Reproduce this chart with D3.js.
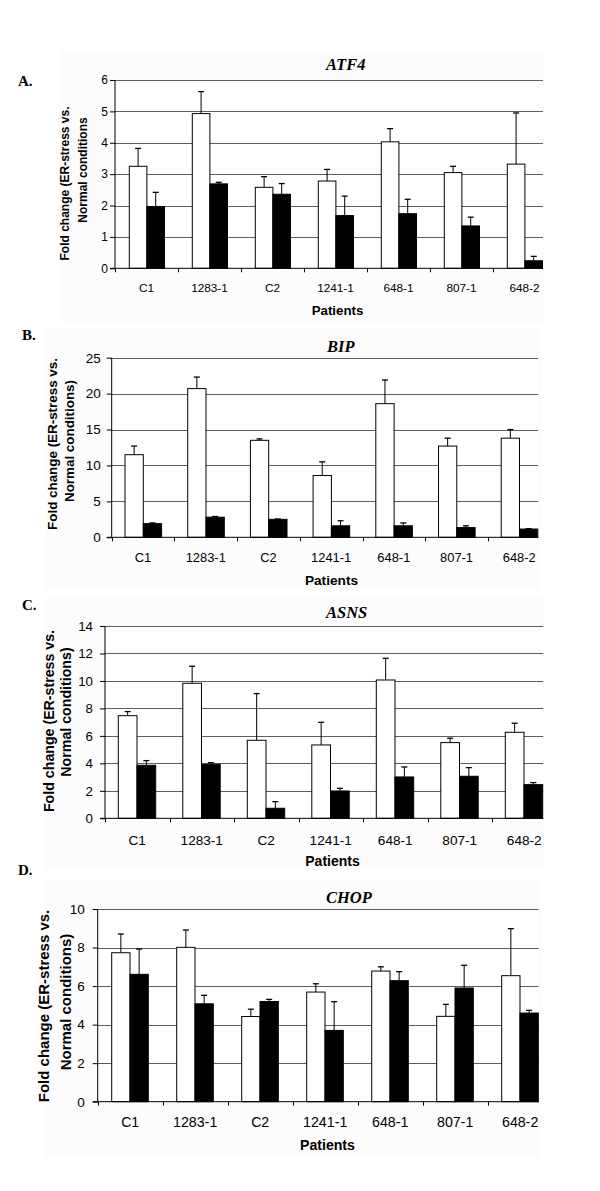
<!DOCTYPE html>
<html>
<head>
<meta charset="utf-8">
<script src="https://cdn.jsdelivr.net/npm/d3@7"></script>
<style>
  html, body { margin: 0; padding: 0; background: #fff; }
  svg { display: block; }
</style>
</head>
<body>
<svg id="chart" width="600" height="1191"></svg>
<script>
// ---------------- DATA ----------------
const categories = ["C1", "1283-1", "C2", "1241-1", "648-1", "807-1", "648-2"];
const genes = ["ATF4", "BIP", "ASNS", "CHOP"];
const panelLetters = ["A.", "B.", "C.", "D."];
const yMaxes = [6, 25, 14, 10];
const yTickSteps = [1, 5, 2, 2];
const yLabelLine1 = "Fold change (ER-stress vs.";
const yLabelLine2 = ["Normal conditions", "Normal conditions)", "Normal conditions)", "Normal conditions)"];
const xTitle = "Patients";

// open (white) bars and their errors
const atf4Open = [3.25, 4.93, 2.58, 2.78, 4.03, 3.05, 3.32];
const atf4OpenErr = [0.57, 0.70, 0.34, 0.37, 0.42, 0.20, 1.63];
const atf4Filled = [1.97, 2.69, 2.36, 1.68, 1.74, 1.35, 0.24];
const atf4FilledErr = [0.45, 0.05, 0.34, 0.62, 0.46, 0.28, 0.14];

const bipOpen = [11.5, 20.7, 13.5, 8.6, 18.6, 12.7, 13.8];
const bipOpenErr = [1.2, 1.6, 0.2, 1.9, 3.3, 1.1, 1.2];
const bipFilled = [1.9, 2.8, 2.5, 1.6, 1.6, 1.35, 1.15];
const bipFilledErr = [0.1, 0.1, 0.05, 0.7, 0.4, 0.25, 0.05];

const asnsOpen = [7.47, 9.83, 5.68, 5.34, 10.07, 5.51, 6.26];
const asnsOpenErr = [0.30, 1.24, 3.40, 1.65, 1.58, 0.32, 0.66];
const asnsFilled = [3.86, 3.93, 0.73, 1.99, 3.01, 3.06, 2.45];
const asnsFilledErr = [0.34, 0.12, 0.48, 0.19, 0.73, 0.63, 0.15];

const chopOpen = [7.73, 8.01, 4.42, 5.69, 6.78, 4.43, 6.54];
const chopOpenErr = [0.97, 0.90, 0.38, 0.43, 0.22, 0.62, 2.44];
const chopFilled = [6.61, 5.08, 5.20, 3.70, 6.28, 5.90, 4.60];
const chopFilledErr = [1.31, 0.44, 0.11, 1.49, 0.47, 1.18, 0.14];

const openSeries = [atf4Open, bipOpen, asnsOpen, chopOpen];
const openErrSeries = [atf4OpenErr, bipOpenErr, asnsOpenErr, chopOpenErr];
const filledSeries = [atf4Filled, bipFilled, asnsFilled, chopFilled];
const filledErrSeries = [atf4FilledErr, bipFilledErr, asnsFilledErr, chopFilledErr];

// ---------------- LAYOUT ----------------
const layouts = [
  { left: 115, step: 63, yTop: 80, yBot: 268.3, off: 14.3, bw: 17.6, tickFont: 12, tickPad: 2,
    catFont: 11.8, catBase: 292, ylabFont: 12, yl1: [68.5, 183.5], yl2: [86.5, 170],
    patFont: 13.3, patX: 337.5, patBase: 315, titleX: 326, titleBase: 70,
    letterX: 18, letterBase: 86, bg: [59, 50, 322] },
  { left: 111.7, step: 62.7, yTop: 357.7, yBot: 537.3, off: 13.3, bw: 18.3, tickFont: 13.5, tickPad: 6,
    catFont: 12.9, catBase: 562, ylabFont: 13.4, yl1: [57, 444], yl2: [73.5, 441],
    patFont: 13.7, patX: 331.5, patBase: 585, titleX: 327, titleBase: 352,
    letterX: 22, letterBase: 340, bg: [45, 328, 590] },
  { left: 105, step: 64.5, yTop: 626, yBot: 818.3, off: 13.3, bw: 18.7, tickFont: 13.3, tickPad: 7,
    catFont: 13.6, catBase: 845, ylabFont: 14.2, yl1: [53.5, 721], yl2: [71, 712],
    patFont: 14, patX: 332.5, patBase: 866, titleX: 326, titleBase: 618,
    letterX: 22, letterBase: 610, bg: [45, 596, 870] },
  { left: 97.7, step: 65, yTop: 909, yBot: 1101.7, off: 14, bw: 18.3, tickFont: 13.5, tickPad: 8,
    catFont: 14.2, catBase: 1127, ylabFont: 15, yl1: [48.5, 1006], yl2: [71, 1002],
    patFont: 14.1, patX: 327.5, patBase: 1150, titleX: 326, titleBase: 903,
    letterX: 18, letterBase: 875, bg: [45, 880, 1158] }
];

const SANS = "'Liberation Sans', Arial, sans-serif";
const SERIF = "'Liberation Serif', 'Times New Roman', serif";

const svg = d3.select("#chart");

genes.forEach((gene, pi) => {
  const L = layouts[pi];
  const g = svg.append("g");

  const x0 = d3.scaleBand().domain(categories)
    .range([L.left, L.left + L.step * categories.length]).padding(0);
  const x1 = d3.scaleBand().domain(["open", "filled"])
    .range([L.off, L.off + 2 * L.bw]).padding(0);
  const y = d3.scaleLinear().domain([0, yMaxes[pi]]).range([L.yBot, L.yTop]);
  const right = x0(categories[categories.length - 1]) + L.off + 2 * L.bw + 0.5;

  // very faint background
  g.append("rect")
    .attr("x", L.bg[0]).attr("y", L.bg[1])
    .attr("width", right + 2 - L.bg[0]).attr("height", L.bg[2] - L.bg[1])
    .attr("fill", "#fcfcfc");
  g.append("rect")
    .attr("x", L.left).attr("y", L.yTop)
    .attr("width", right - L.left).attr("height", L.yBot - L.yTop)
    .attr("fill", "#ffffff");

  const ticks = d3.range(0, yMaxes[pi] + 1e-9, yTickSteps[pi]);

  // gridlines
  g.append("g").selectAll("line").data(ticks.filter(t => t > 0)).join("line")
    .attr("x1", L.left).attr("x2", right)
    .attr("y1", d => Math.round(y(d)) + 0.5).attr("y2", d => Math.round(y(d)) + 0.5)
    .attr("stroke", "#5e5e5e").attr("stroke-width", 1);

  // bars
  const rows = categories.map((c, i) => ({
    cat: c,
    bars: [
      { key: "open", v: openSeries[pi][i], e: openErrSeries[pi][i] },
      { key: "filled", v: filledSeries[pi][i], e: filledErrSeries[pi][i] }
    ]
  }));

  const grp = g.append("g").selectAll("g").data(rows).join("g")
    .attr("transform", d => `translate(${x0(d.cat)},0)`);

  // error bars
  grp.selectAll("g.err").data(d => d.bars).join("g").attr("class", "err")
    .each(function (d) {
      const cx = x1(d.key) + x1.bandwidth() / 2;
      const sel = d3.select(this);
      sel.append("line")
        .attr("x1", cx).attr("x2", cx)
        .attr("y1", y(d.v)).attr("y2", y(d.v + d.e))
        .attr("stroke", "#000").attr("stroke-width", 1);
      sel.append("line")
        .attr("x1", cx - 3).attr("x2", cx + 3)
        .attr("y1", y(d.v + d.e)).attr("y2", y(d.v + d.e))
        .attr("stroke", "#000").attr("stroke-width", 1.3);
    });

  grp.selectAll("rect").data(d => d.bars).join("rect")
    .attr("x", d => x1(d.key))
    .attr("width", x1.bandwidth())
    .attr("y", d => y(d.v))
    .attr("height", d => L.yBot - y(d.v))
    .attr("fill", d => d.key === "open" ? "#ffffff" : "#000000")
    .attr("stroke", "#000").attr("stroke-width", 1);

  // y axis
  const yAxis = d3.axisLeft(y).tickValues(ticks).tickSize(5).tickPadding(L.tickPad)
    .tickFormat(d3.format("d"));
  const ya = g.append("g").attr("transform", `translate(${L.left},0)`).call(yAxis);
  ya.select(".domain").attr("stroke", "#000").attr("d", `M0,${L.yTop}V${L.yBot}`);
  ya.selectAll(".tick line").attr("stroke", "#000");
  ya.selectAll(".tick text").attr("font-family", SANS).attr("font-size", L.tickFont).attr("fill", "#000");

  // x axis line and ticks
  g.append("line").attr("x1", L.left - 5).attr("x2", right)
    .attr("y1", L.yBot).attr("y2", L.yBot).attr("stroke", "#000");
  g.append("g").selectAll("line").data(categories).join("line")
    .attr("x1", d => Math.round(x0(d)) + 0.5).attr("x2", d => Math.round(x0(d)) + 0.5)
    .attr("y1", L.yBot).attr("y2", L.yBot + 4)
    .attr("stroke", "#000");
  g.append("g").selectAll("text").data(categories).join("text")
    .attr("x", d => x0(d) + x0.bandwidth() / 2)
    .attr("y", L.catBase)
    .attr("text-anchor", "middle")
    .attr("font-family", SANS).attr("font-size", L.catFont).attr("fill", "#000")
    .text(d => d);

  // x title
  g.append("text").attr("x", L.patX).attr("y", L.patBase)
    .attr("text-anchor", "middle").attr("font-family", SANS).attr("font-weight", "bold")
    .attr("font-size", L.patFont).text(xTitle);

  // y title (two lines)
  g.append("text")
    .attr("transform", `translate(${L.yl1[0]},${L.yl1[1]}) rotate(-90)`)
    .attr("text-anchor", "middle").attr("font-family", SANS).attr("font-weight", "bold")
    .attr("font-size", L.ylabFont).text(yLabelLine1);
  g.append("text")
    .attr("transform", `translate(${L.yl2[0]},${L.yl2[1]}) rotate(-90)`)
    .attr("text-anchor", "middle").attr("font-family", SANS).attr("font-weight", "bold")
    .attr("font-size", L.ylabFont).text(yLabelLine2[pi]);

  // gene title
  g.append("text").attr("x", L.titleX).attr("y", L.titleBase)
    .attr("font-family", SERIF).attr("font-weight", "bold").attr("font-style", "italic")
    .attr("font-size", 16.5).text(gene);

  // panel letter
  g.append("text").attr("x", L.letterX).attr("y", L.letterBase)
    .attr("font-family", SERIF).attr("font-weight", "bold")
    .attr("font-size", 15).text(panelLetters[pi]);
});
</script>
</body>
</html>
